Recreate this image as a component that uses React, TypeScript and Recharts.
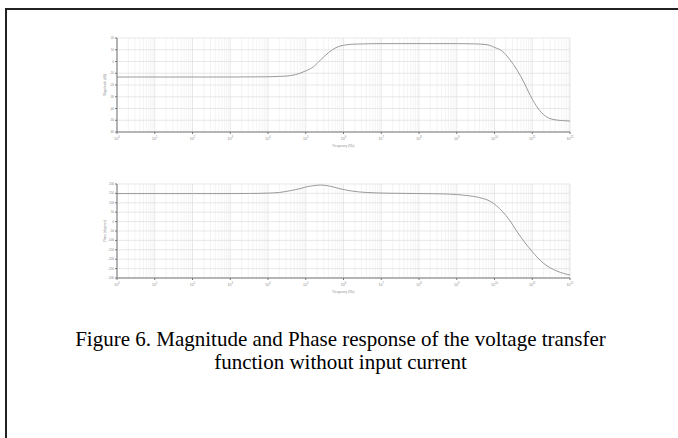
import { CartesianGrid, Line, LineChart, XAxis, YAxis } from "recharts";

// frequency decades shown on the x axis (Hz)
const decadeTicks = [1, 1e1, 1e2, 1e3, 1e4, 1e5, 1e6, 1e7, 1e8, 1e9, 1e10, 1e11, 1e12];
const minorSteps = [2, 3, 4, 5, 6, 7, 8, 9];

const magTicks = [20, 10, 0, -10, -20, -30, -40, -50, -60];
const phaseTicks = [200, 150, 100, 50, 0, -50, -100, -150, -200, -250, -300];

// magnitude response (dB)
const magFreq = [1, 10, 100, 1e3, 1e4, 2e4, 4e4, 7e4, 1e5, 1.6e5, 2.5e5, 4e5, 6.3e5, 1e6, 2e6, 5e6, 1e7, 1e8, 1e9, 3e9, 6.3e9, 1e10, 1.6e10, 2.5e10, 4e10, 6.3e10, 8e10, 1e11, 1.6e11, 2.5e11, 4e11, 6.3e11, 1e12];
const magDb = [-13.2, -13.2, -13.2, -13.2, -13, -12.7, -12, -10, -8, -4.5, 1.5, 7.5, 11.8, 13.8, 14.8, 15.1, 15.2, 15.2, 15.2, 15, 14.3, 12, 8.8, 2, -7.5, -19, -26, -32, -42, -47.5, -49.6, -50.3, -50.7];

// phase response (degrees)
const phaseFreq = [1, 10, 100, 1e3, 3e3, 1e4, 2e4, 4e4, 7e4, 1e5, 1.6e5, 2.5e5, 4e5, 8e5, 1.6e6, 4e6, 1.6e7, 1e8, 5e8, 2e9, 4e9, 8e9, 1.6e10, 2.5e10, 4e10, 6.3e10, 1e11, 2e11, 4.5e11, 1e12];
const phaseDeg = [149, 149, 149, 149, 149.5, 151.5, 155, 165, 175, 184, 191, 194.5, 190, 175, 163, 155, 151, 149, 147, 138, 128, 106, 55, 8, -55, -110, -160, -222, -263, -284];

const minorTicks = decadeTicks.slice(0, -1).flatMap((d) => minorSteps.map((m) => m * d));

const magData = magFreq.map((f, i) => ({ f, v: magDb[i] }));
const phaseData = phaseFreq.map((f, i) => ({ f, v: phaseDeg[i] }));

function DecadeTick(props: any) {
  const { x, y, payload } = props;
  const exp = Math.round(Math.log10(payload.value));
  return (
    <text x={x} y={y + 4} textAnchor="middle" fontSize={3.5} fill="#888" fontFamily="Arial, sans-serif">
      10
      <tspan dy={-2} fontSize={2.6}>
        {exp}
      </tspan>
    </text>
  );
}

function BodePanel({ data, ticks, label, top }: { data: { f: number; v: number }[]; ticks: number[]; label: string; top: number }) {
  const domain = [ticks[ticks.length - 1], ticks[0]];
  return (
    <div style={{ position: "absolute", left: 0, top }}>
      <LineChart width={678} height={160} data={data} margin={{ top: 38, right: 108, bottom: 12, left: 0 }}>
        <CartesianGrid xAxisId="minor" horizontal={false} stroke="#efefef" strokeWidth={0.7} />
        <CartesianGrid stroke="#dedede" strokeWidth={0.7} />
        <XAxis
          xAxisId="minor"
          dataKey="f"
          type="number"
          scale="log"
          domain={[1, 1e12]}
          ticks={minorTicks}
          interval={0}
          allowDataOverflow
          hide
        />
        <XAxis
          dataKey="f"
          type="number"
          scale="log"
          domain={[1, 1e12]}
          ticks={decadeTicks}
          interval={0}
          allowDataOverflow
          height={16}
          tickSize={2}
          stroke="#777"
          tick={DecadeTick}
          label={{ value: "Frequency (Hz)", position: "insideBottom", offset: 1, fontSize: 3.5, fill: "#888" }}
        />
        <YAxis
          type="number"
          domain={domain}
          ticks={ticks}
          interval={0}
          width={117}
          tickSize={2}
          tickMargin={1}
          stroke="#777"
          tick={{ fontSize: 3, fill: "#888", fontFamily: "Arial, sans-serif" }}
          label={{ value: label, angle: -90, position: "insideLeft", offset: 105, fontSize: 3.5, fill: "#888", style: { textAnchor: "middle" } }}
        />
        <Line type="monotone" dataKey="v" stroke="#9a9a9a" strokeWidth={1} dot={false} isAnimationActive={false} />
      </LineChart>
    </div>
  );
}

export default function App() {
  return (
    <div style={{ position: "absolute", left: 0, top: 0, width: 678, height: 438, overflow: "hidden", background: "#fff" }}>
      <div
        style={{
          position: "absolute",
          left: 5,
          top: 8,
          width: 700,
          height: 460,
          borderLeft: "2px solid #222",
          borderTop: "2px solid #222",
        }}
      />
      <BodePanel data={magData} ticks={magTicks} label="Magnitude (dB)" top={0} />
      <BodePanel data={phaseData} ticks={phaseTicks} label="Phase (degrees)" top={146} />
      <div
        style={{
          position: "absolute",
          left: 0,
          top: 328,
          width: 681,
          textAlign: "center",
          fontFamily: "'Liberation Serif', 'Times New Roman', serif",
          fontSize: 21,
          lineHeight: "23px",
          color: "#000",
        }}
      >
        Figure 6. Magnitude and Phase response of the voltage transfer
        <br />
        function without input current
      </div>
    </div>
  );
}
